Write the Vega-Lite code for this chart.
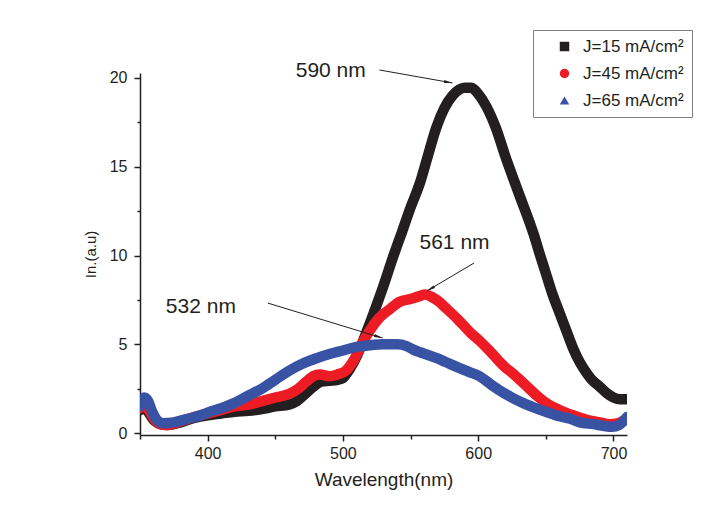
{
  "$schema": "https://vega.github.io/schema/vega-lite/v6.json",
  "autosize": "none",
  "width": 487,
  "height": 362,
  "padding": {"left": 140, "top": 73, "right": 89, "bottom": 80},
  "background": "white",
  "config": {
    "view": {"stroke": null},
    "font": "Liberation Sans",
    "axis": {"domainColor": "#231f20", "domainWidth": 1.5, "tickColor": "#231f20", "tickWidth": 1.5, "labelColor": "#231f20", "titleColor": "#231f20", "labelFont": "Liberation Sans", "titleFont": "Liberation Sans", "titleFontWeight": "normal", "grid": false}
  },
  "datasets": {
    "spec": [
      {"s": "J=15 mA/cm²", "wl": 350, "I": 1.3}, {"s": "J=15 mA/cm²", "wl": 353, "I": 1.45}, {"s": "J=15 mA/cm²", "wl": 356, "I": 1.2}, {"s": "J=15 mA/cm²", "wl": 360, "I": 0.75}, {"s": "J=15 mA/cm²", "wl": 365, "I": 0.5}, {"s": "J=15 mA/cm²", "wl": 370, "I": 0.45}, {"s": "J=15 mA/cm²", "wl": 380, "I": 0.6}, {"s": "J=15 mA/cm²", "wl": 390, "I": 0.85}, {"s": "J=15 mA/cm²", "wl": 400, "I": 1.0}, {"s": "J=15 mA/cm²", "wl": 410, "I": 1.1}, {"s": "J=15 mA/cm²", "wl": 420, "I": 1.2}, {"s": "J=15 mA/cm²", "wl": 430, "I": 1.25}, {"s": "J=15 mA/cm²", "wl": 440, "I": 1.35}, {"s": "J=15 mA/cm²", "wl": 450, "I": 1.5}, {"s": "J=15 mA/cm²", "wl": 460, "I": 1.6}, {"s": "J=15 mA/cm²", "wl": 466, "I": 1.8}, {"s": "J=15 mA/cm²", "wl": 472, "I": 2.2}, {"s": "J=15 mA/cm²", "wl": 478, "I": 2.6}, {"s": "J=15 mA/cm²", "wl": 484, "I": 2.9}, {"s": "J=15 mA/cm²", "wl": 490, "I": 2.95}, {"s": "J=15 mA/cm²", "wl": 496, "I": 3.0}, {"s": "J=15 mA/cm²", "wl": 500, "I": 3.1}, {"s": "J=15 mA/cm²", "wl": 505, "I": 3.6}, {"s": "J=15 mA/cm²", "wl": 510, "I": 4.3}, {"s": "J=15 mA/cm²", "wl": 515, "I": 5.2}, {"s": "J=15 mA/cm²", "wl": 520, "I": 6.2}, {"s": "J=15 mA/cm²", "wl": 530, "I": 8.3}, {"s": "J=15 mA/cm²", "wl": 537, "I": 9.9}, {"s": "J=15 mA/cm²", "wl": 544, "I": 11.4}, {"s": "J=15 mA/cm²", "wl": 550, "I": 12.7}, {"s": "J=15 mA/cm²", "wl": 557, "I": 14.1}, {"s": "J=15 mA/cm²", "wl": 562, "I": 15.4}, {"s": "J=15 mA/cm²", "wl": 569, "I": 17.2}, {"s": "J=15 mA/cm²", "wl": 575, "I": 18.3}, {"s": "J=15 mA/cm²", "wl": 581, "I": 19.0}, {"s": "J=15 mA/cm²", "wl": 586, "I": 19.35}, {"s": "J=15 mA/cm²", "wl": 590, "I": 19.45}, {"s": "J=15 mA/cm²", "wl": 595, "I": 19.45}, {"s": "J=15 mA/cm²", "wl": 600, "I": 19.1}, {"s": "J=15 mA/cm²", "wl": 606, "I": 18.4}, {"s": "J=15 mA/cm²", "wl": 613, "I": 17.2}, {"s": "J=15 mA/cm²", "wl": 620, "I": 15.6}, {"s": "J=15 mA/cm²", "wl": 630, "I": 13.5}, {"s": "J=15 mA/cm²", "wl": 641, "I": 11.2}, {"s": "J=15 mA/cm²", "wl": 645, "I": 10.2}, {"s": "J=15 mA/cm²", "wl": 650, "I": 9.0}, {"s": "J=15 mA/cm²", "wl": 655, "I": 7.8}, {"s": "J=15 mA/cm²", "wl": 660, "I": 6.8}, {"s": "J=15 mA/cm²", "wl": 665, "I": 5.8}, {"s": "J=15 mA/cm²", "wl": 670, "I": 4.8}, {"s": "J=15 mA/cm²", "wl": 675, "I": 4.0}, {"s": "J=15 mA/cm²", "wl": 680, "I": 3.4}, {"s": "J=15 mA/cm²", "wl": 684, "I": 3.0}, {"s": "J=15 mA/cm²", "wl": 690, "I": 2.6}, {"s": "J=15 mA/cm²", "wl": 695, "I": 2.25}, {"s": "J=15 mA/cm²", "wl": 700, "I": 2.0}, {"s": "J=15 mA/cm²", "wl": 705, "I": 1.9}, {"s": "J=15 mA/cm²", "wl": 710, "I": 1.9},
      {"s": "J=45 mA/cm²", "wl": 350, "I": 1.4}, {"s": "J=45 mA/cm²", "wl": 353, "I": 1.6}, {"s": "J=45 mA/cm²", "wl": 356, "I": 1.35}, {"s": "J=45 mA/cm²", "wl": 360, "I": 0.85}, {"s": "J=45 mA/cm²", "wl": 365, "I": 0.5}, {"s": "J=45 mA/cm²", "wl": 370, "I": 0.45}, {"s": "J=45 mA/cm²", "wl": 380, "I": 0.65}, {"s": "J=45 mA/cm²", "wl": 390, "I": 0.9}, {"s": "J=45 mA/cm²", "wl": 400, "I": 1.1}, {"s": "J=45 mA/cm²", "wl": 410, "I": 1.3}, {"s": "J=45 mA/cm²", "wl": 420, "I": 1.5}, {"s": "J=45 mA/cm²", "wl": 430, "I": 1.6}, {"s": "J=45 mA/cm²", "wl": 440, "I": 1.8}, {"s": "J=45 mA/cm²", "wl": 450, "I": 2.0}, {"s": "J=45 mA/cm²", "wl": 460, "I": 2.2}, {"s": "J=45 mA/cm²", "wl": 467, "I": 2.5}, {"s": "J=45 mA/cm²", "wl": 473, "I": 2.9}, {"s": "J=45 mA/cm²", "wl": 478, "I": 3.2}, {"s": "J=45 mA/cm²", "wl": 483, "I": 3.3}, {"s": "J=45 mA/cm²", "wl": 490, "I": 3.2}, {"s": "J=45 mA/cm²", "wl": 496, "I": 3.3}, {"s": "J=45 mA/cm²", "wl": 502, "I": 3.5}, {"s": "J=45 mA/cm²", "wl": 508, "I": 4.1}, {"s": "J=45 mA/cm²", "wl": 512, "I": 4.7}, {"s": "J=45 mA/cm²", "wl": 516, "I": 5.3}, {"s": "J=45 mA/cm²", "wl": 520, "I": 5.8}, {"s": "J=45 mA/cm²", "wl": 527, "I": 6.5}, {"s": "J=45 mA/cm²", "wl": 535, "I": 7.0}, {"s": "J=45 mA/cm²", "wl": 542, "I": 7.4}, {"s": "J=45 mA/cm²", "wl": 550, "I": 7.55}, {"s": "J=45 mA/cm²", "wl": 556, "I": 7.7}, {"s": "J=45 mA/cm²", "wl": 561, "I": 7.8}, {"s": "J=45 mA/cm²", "wl": 566, "I": 7.65}, {"s": "J=45 mA/cm²", "wl": 571, "I": 7.4}, {"s": "J=45 mA/cm²", "wl": 576, "I": 7.05}, {"s": "J=45 mA/cm²", "wl": 585, "I": 6.4}, {"s": "J=45 mA/cm²", "wl": 595, "I": 5.6}, {"s": "J=45 mA/cm²", "wl": 601, "I": 5.2}, {"s": "J=45 mA/cm²", "wl": 610, "I": 4.5}, {"s": "J=45 mA/cm²", "wl": 620, "I": 3.7}, {"s": "J=45 mA/cm²", "wl": 625, "I": 3.4}, {"s": "J=45 mA/cm²", "wl": 635, "I": 2.7}, {"s": "J=45 mA/cm²", "wl": 645, "I": 2.0}, {"s": "J=45 mA/cm²", "wl": 650, "I": 1.7}, {"s": "J=45 mA/cm²", "wl": 660, "I": 1.3}, {"s": "J=45 mA/cm²", "wl": 670, "I": 1.0}, {"s": "J=45 mA/cm²", "wl": 680, "I": 0.75}, {"s": "J=45 mA/cm²", "wl": 690, "I": 0.6}, {"s": "J=45 mA/cm²", "wl": 697, "I": 0.5}, {"s": "J=45 mA/cm²", "wl": 703, "I": 0.55}, {"s": "J=45 mA/cm²", "wl": 710, "I": 0.8},
      {"s": "J=65 mA/cm²", "wl": 350, "I": 1.5}, {"s": "J=65 mA/cm²", "wl": 353, "I": 2.0}, {"s": "J=65 mA/cm²", "wl": 356, "I": 1.8}, {"s": "J=65 mA/cm²", "wl": 359, "I": 1.2}, {"s": "J=65 mA/cm²", "wl": 363, "I": 0.7}, {"s": "J=65 mA/cm²", "wl": 367, "I": 0.55}, {"s": "J=65 mA/cm²", "wl": 375, "I": 0.6}, {"s": "J=65 mA/cm²", "wl": 385, "I": 0.8}, {"s": "J=65 mA/cm²", "wl": 395, "I": 1.0}, {"s": "J=65 mA/cm²", "wl": 400, "I": 1.15}, {"s": "J=65 mA/cm²", "wl": 410, "I": 1.4}, {"s": "J=65 mA/cm²", "wl": 420, "I": 1.7}, {"s": "J=65 mA/cm²", "wl": 430, "I": 2.1}, {"s": "J=65 mA/cm²", "wl": 440, "I": 2.5}, {"s": "J=65 mA/cm²", "wl": 450, "I": 3.0}, {"s": "J=65 mA/cm²", "wl": 460, "I": 3.5}, {"s": "J=65 mA/cm²", "wl": 470, "I": 3.9}, {"s": "J=65 mA/cm²", "wl": 480, "I": 4.2}, {"s": "J=65 mA/cm²", "wl": 490, "I": 4.45}, {"s": "J=65 mA/cm²", "wl": 500, "I": 4.65}, {"s": "J=65 mA/cm²", "wl": 510, "I": 4.85}, {"s": "J=65 mA/cm²", "wl": 520, "I": 4.95}, {"s": "J=65 mA/cm²", "wl": 530, "I": 5.0}, {"s": "J=65 mA/cm²", "wl": 540, "I": 5.0}, {"s": "J=65 mA/cm²", "wl": 547, "I": 4.9}, {"s": "J=65 mA/cm²", "wl": 552, "I": 4.7}, {"s": "J=65 mA/cm²", "wl": 557, "I": 4.55}, {"s": "J=65 mA/cm²", "wl": 563, "I": 4.4}, {"s": "J=65 mA/cm²", "wl": 570, "I": 4.2}, {"s": "J=65 mA/cm²", "wl": 576, "I": 4.0}, {"s": "J=65 mA/cm²", "wl": 585, "I": 3.7}, {"s": "J=65 mA/cm²", "wl": 593, "I": 3.45}, {"s": "J=65 mA/cm²", "wl": 601, "I": 3.2}, {"s": "J=65 mA/cm²", "wl": 610, "I": 2.7}, {"s": "J=65 mA/cm²", "wl": 618, "I": 2.3}, {"s": "J=65 mA/cm²", "wl": 625, "I": 2.0}, {"s": "J=65 mA/cm²", "wl": 633, "I": 1.7}, {"s": "J=65 mA/cm²", "wl": 641, "I": 1.45}, {"s": "J=65 mA/cm²", "wl": 650, "I": 1.2}, {"s": "J=65 mA/cm²", "wl": 660, "I": 0.95}, {"s": "J=65 mA/cm²", "wl": 668, "I": 0.8}, {"s": "J=65 mA/cm²", "wl": 675, "I": 0.6}, {"s": "J=65 mA/cm²", "wl": 685, "I": 0.5}, {"s": "J=65 mA/cm²", "wl": 693, "I": 0.4}, {"s": "J=65 mA/cm²", "wl": 699, "I": 0.35}, {"s": "J=65 mA/cm²", "wl": 704, "I": 0.45}, {"s": "J=65 mA/cm²", "wl": 710, "I": 0.9}
    ],
    "labels": [
      {"label": "590 nm", "wl": 491, "I": 20.4},
      {"label": "561 nm", "wl": 582.5, "I": 10.7},
      {"label": "532 nm", "wl": 395, "I": 7.1}
    ],
    "arrows": [
      {"peak": "590", "wl": 527, "I": 20.45, "wl2": 581, "I2": 19.72},
      {"peak": "561", "wl": 597, "I": 9.58, "wl2": 562, "I2": 8.0},
      {"peak": "532", "wl": 444.5, "I": 7.32, "wl2": 529.3, "I2": 5.35}
    ]
  },
  "layer": [
    {
      "data": {"name": "spec"},
      "mark": {"type": "point", "filled": true, "size": 0, "opacity": 1},
      "encoding": {
        "x": {"field": "wl", "type": "quantitative", "scale": {"domain": [350, 710], "nice": false, "zero": false},
          "axis": {"title": "Wavelength(nm)", "titleFontSize": 19, "titlePadding": 9, "labelFontSize": 16, "values": [350, 400, 450, 500, 550, 600, 650, 700], "labelExpr": "datum.value % 100 === 0 ? datum.label : ''", "tickSize": {"condition": {"test": "datum.value % 100 === 0", "value": 6}, "value": 4}, "labelPadding": 4}},
        "y": {"field": "I", "type": "quantitative", "scale": {"domain": [-0.11, 20.28], "nice": false, "zero": false},
          "axis": {"title": "In.(a.u)", "titleFontSize": 15, "titlePadding": 11, "labelFontSize": 16, "values": [0, 2.5, 5, 7.5, 10, 12.5, 15, 17.5, 20], "labelExpr": "datum.value % 5 === 0 ? datum.label : ''", "tickSize": {"condition": {"test": "datum.value % 5 === 0", "value": 6}, "value": 3}, "labelPadding": 7}},
        "color": {"field": "s", "type": "nominal", "title": null,
          "scale": {"domain": ["J=15 mA/cm²", "J=45 mA/cm²", "J=65 mA/cm²"], "range": ["#231f20", "#ed1c24", "#3953a4"]},
          "legend": {"orient": "none", "legendX": 393, "legendY": -43, "title": null, "strokeColor": "#808080", "padding": 8, "symbolOffset": 15, "symbolSize": 90, "labelFontSize": 17, "labelFont": "Liberation Sans", "labelColor": "#231f20", "labelOffset": 10, "rowPadding": 9, "symbolStrokeWidth": 0, "symbolOpacity": 1}},
        "shape": {"field": "s", "type": "nominal", "title": null, "scale": {"domain": ["J=15 mA/cm²", "J=45 mA/cm²", "J=65 mA/cm²"], "range": ["square", "circle", "triangle-up"]}}
      }
    },
    {
      "data": {"name": "spec"},
      "mark": {"type": "line", "strokeWidth": 10.5, "interpolate": "monotone", "clip": true, "strokeCap": "round", "strokeJoin": "round"},
      "encoding": {
        "x": {"field": "wl", "type": "quantitative"},
        "y": {"field": "I", "type": "quantitative"},
        "stroke": {"field": "s", "type": "nominal", "scale": {"domain": ["J=15 mA/cm²", "J=45 mA/cm²", "J=65 mA/cm²"], "range": ["#231f20", "#ed1c24", "#3953a4"]}, "legend": null}
      }
    },
    {
      "data": {"name": "arrows"},
      "mark": {"type": "rule", "color": "#231f20", "strokeWidth": 1},
      "encoding": {
        "x": {"field": "wl", "type": "quantitative"},
        "y": {"field": "I", "type": "quantitative"},
        "x2": {"field": "wl2"},
        "y2": {"field": "I2"}
      }
    },
    {
      "data": {"name": "arrows"},
      "transform": [{"filter": "datum.peak === '590'"}],
      "mark": {"type": "point", "shape": "M0,0L-0.4,2.2L0.4,2.2Z", "filled": true, "color": "#231f20", "opacity": 1, "size": 60, "angle": 100},
      "encoding": {"x": {"field": "wl2", "type": "quantitative"}, "y": {"field": "I2", "type": "quantitative"}}
    },
    {
      "data": {"name": "arrows"},
      "transform": [{"filter": "datum.peak === '561'"}],
      "mark": {"type": "point", "shape": "M0,0L-0.4,2.2L0.4,2.2Z", "filled": true, "color": "#231f20", "opacity": 1, "size": 60, "angle": 240},
      "encoding": {"x": {"field": "wl2", "type": "quantitative"}, "y": {"field": "I2", "type": "quantitative"}}
    },
    {
      "data": {"name": "arrows"},
      "transform": [{"filter": "datum.peak === '532'"}],
      "mark": {"type": "point", "shape": "M0,0L-0.4,2.2L0.4,2.2Z", "filled": true, "color": "#231f20", "opacity": 1, "size": 60, "angle": 107},
      "encoding": {"x": {"field": "wl2", "type": "quantitative"}, "y": {"field": "I2", "type": "quantitative"}}
    },
    {
      "data": {"name": "labels"},
      "mark": {"type": "text", "fontSize": 21, "font": "Liberation Sans", "color": "#231f20", "align": "center", "baseline": "middle"},
      "encoding": {
        "x": {"field": "wl", "type": "quantitative"},
        "y": {"field": "I", "type": "quantitative"},
        "text": {"field": "label"}
      }
    }
  ]
}
